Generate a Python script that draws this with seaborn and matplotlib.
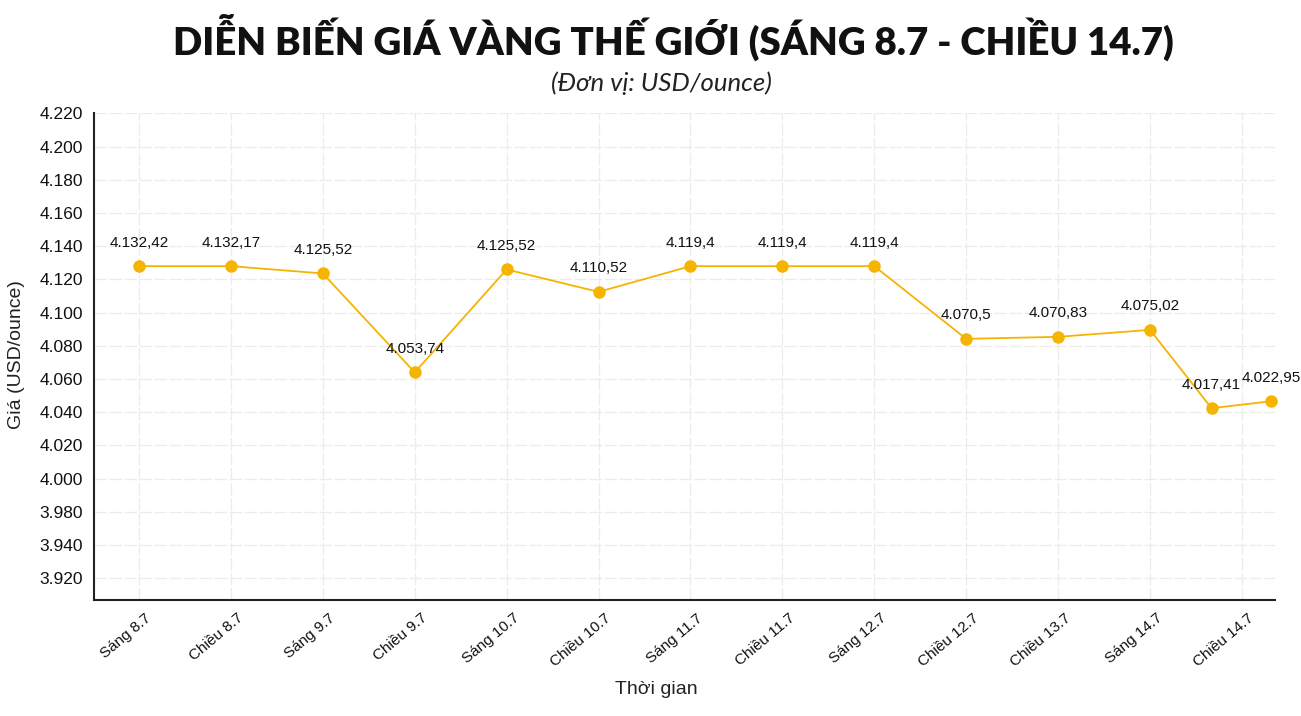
import seaborn as sns
import matplotlib.pyplot as plt
import matplotlib.transforms as mtransforms
import pandas as pd

# tick categories on the x axis
time_labels = ['Sáng 8.7', 'Chiều 8.7', 'Sáng 9.7', 'Chiều 9.7', 'Sáng 10.7', 'Chiều 10.7',
               'Sáng 11.7', 'Chiều 11.7', 'Sáng 12.7', 'Chiều 12.7', 'Chiều 13.7',
               'Sáng 14.7', 'Chiều 14.7']

# point positions (x in category units, y in axis units)
point_x = [0, 1, 2, 3, 4, 5, 6, 7, 8, 9, 10, 11, 11.67, 12.32]
point_y = [4128, 4128, 4123.6, 4064, 4126, 4112.5, 4128, 4128, 4128,
           4084.2, 4085.4, 4089.6, 4042.4, 4046.6]
# printed value labels
value_labels = ['4.132,42', '4.132,17', '4.125,52', '4.053,74', '4.125,52', '4.110,52',
                '4.119,4', '4.119,4', '4.119,4', '4.070,5', '4.070,83', '4.075,02',
                '4.017,41', '4.022,95']

# y ticks as printed on the chart
ytick_pos = [3940, 3960, 3980, 4000, 4020, 4040, 4060, 4080, 4100, 4120,
             4140, 4160, 4180, 4200, 4220]
ytick_text = ['3.920', '3.940', '3.980', '4.000', '4.020', '4.040', '4.060', '4.080',
              '4.100', '4.120', '4.140', '4.160', '4.180', '4.200', '4.220']

sns.set_theme(style='white')
plt.rcParams['font.family'] = ['Liberation Sans', 'DejaVu Sans']

gold = '#F5B400'

df = pd.DataFrame({'x': point_x, 'y': point_y, 'label': value_labels})

fig = plt.figure(figsize=(13.01, 7.16), dpi=100)
ax = fig.add_axes([94 / 1301, 1 - 600 / 716, (1275 - 94) / 1301, (600 - 113) / 716])

sns.lineplot(data=df, x='x', y='y', ax=ax, color=gold, linewidth=1.3,
             marker='o', markersize=9, markeredgewidth=0, clip_on=False)

# value labels above each point
for _, r in df.iterrows():
    ax.annotate(r['label'], (r['x'], r['y']), xytext=(0, 17), textcoords='offset points',
                ha='center', va='center', fontsize=11, color='#111111')

ax.set_xlim(-0.49, 12.36)
ax.set_ylim(3926.8, 4220.3)
ax.set_xticks(range(len(time_labels)))
ax.set_xticklabels(time_labels, rotation=40, ha='right', va='top', fontsize=11)
ax.set_yticks(ytick_pos)
ax.set_yticklabels(ytick_text, fontsize=12.5)

ax.grid(True, color='#ececec', linewidth=0.9, linestyle=(0, (10, 2)))
ax.set_axisbelow(True)
for s in ['top', 'right']:
    ax.spines[s].set_visible(False)
for s in ['left', 'bottom']:
    ax.spines[s].set_color('#222222')
    ax.spines[s].set_linewidth(1.5)
ax.tick_params(axis='both', length=5, width=0.8, color='#bbbbbb', pad=3, labelcolor='#111111')

# nudge rotated x labels to the right like the original
shift = mtransforms.ScaledTranslation(15 / 100, 0, fig.dpi_scale_trans)
for lab in ax.get_xticklabels():
    lab.set_transform(lab.get_transform() + shift)

ax.set_xlabel('Thời gian', fontsize=14, color='#222222')
ax.xaxis.set_label_coords((656 - 94) / 1181, -(90 / 487))
ax.xaxis.label.set_va('center')
ax.set_ylabel('Giá (USD/ounce)', fontsize=14, color='#222222')
ax.yaxis.set_label_coords(-(77 / 1181), 245 / 487)
ax.yaxis.label.set_va('center')

fig.text(673 / 1301, 1 - 37 / 716, 'DIỄN BIẾN GIÁ VÀNG THẾ GIỚI (SÁNG 8.7 - CHIỀU 14.7)',
         ha='center', va='center', fontsize=27.6, fontweight='heavy', color='#111111',
         family=['Lato', 'DejaVu Sans'])
fig.text(661 / 1301, 1 - 83 / 716, '(Đơn vị: USD/ounce)', ha='center', va='center',
         fontsize=18.5, style='italic', color='#222222',
         family=['Lato', 'DejaVu Sans'])

fig.savefig('out.png', dpi=100)
